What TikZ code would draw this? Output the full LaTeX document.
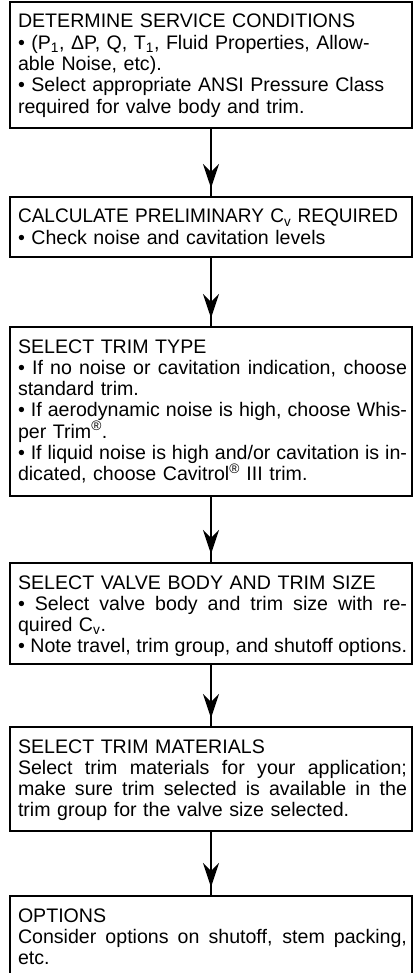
\documentclass[tikz,border=0pt]{standalone}
\usepackage{fontspec}
\setmainfont{Liberation Sans}
\usetikzlibrary{positioning,arrows.meta,decorations.markings}

\newlength{\boxtextwd}
\setlength{\boxtextwd}{389pt}
\newcommand{\fullline}[1]{\makebox[\boxtextwd][s]{\spaceskip=0.278em plus 0.3em minus 0.12em\relax #1}}

\begin{document}
\begin{tikzpicture}[x=1pt, y=1pt,
    stepbox/.style={rectangle, draw, line width=2pt, outer sep=0pt,
        minimum width=402pt, inner xsep=8pt, inner ysep=12pt,
        text width=386pt, align=left, text height=14pt,
        font=\fontsize{19.6}{21.3}\selectfont},
    flow/.style={line width=2pt, postaction={decorate},
        decoration={markings, mark=at position -9pt with {\arrow{Stealth[length=24pt,width=16pt,inset=8pt]}}}}]
    \useasboundingbox (0,0) rectangle (414,-973);

    % Nodes
    \node (service) [stepbox, anchor=north, text depth=88pt] at (211,-2) {DETERMINE SERVICE CONDITIONS\\
        • (P\textsubscript{1}, ΔP, Q, T\textsubscript{1}, Fluid Properties, Allow-\\
        able Noise, etc).\\
        • Select appropriate ANSI Pressure Class\\
        required for valve body and trim.};

    \node (cv) [stepbox, below=69pt of service, text depth=22pt] {\scalebox{0.972}[1]{CALCULATE PRELIMINARY C\textsubscript{v} REQUIRED}\\
        • Check noise and cavitation levels};

    \node (trimtype) [stepbox, below=70pt of cv, text depth=131pt] {SELECT TRIM TYPE\\
        \fullline{• If no noise or cavitation indication, choose}\\
        standard trim.\\
        \fullline{• If aerodynamic noise is high, choose Whis-}\\
        per Trim\textsuperscript{®}.\\
        \fullline{• If liquid noise is high and/or cavitation is in-}\\
        dicated, choose Cavitrol\textsuperscript{®} III trim.};

    \node (bodysize) [stepbox, below=67pt of trimtype, text depth=63pt] {SELECT VALVE BODY AND TRIM SIZE\\
        \fullline{• Select valve body and trim size with re-}\\
        quired C\textsubscript{v}.\\
        \fullline{• Note travel, trim group, and shutoff options.}};

    \node (materials) [stepbox, below=63pt of bodysize, text depth=66pt] {SELECT TRIM MATERIALS\\
        \fullline{Select trim materials for your application;}\\
        \fullline{make sure trim selected is available in the}\\
        trim group for the valve size selected.};

    \node (options) [stepbox, below=65pt of materials, text depth=62pt] {OPTIONS\\
        \fullline{Consider options on shutoff, stem packing,}\\
        etc.};

    % Connections
    \draw [flow] (service) -- (cv);
    \draw [flow] (cv) -- (trimtype);
    \draw [flow] (trimtype) -- (bodysize);
    \draw [flow] (bodysize) -- (materials);
    \draw [flow] (materials) -- (options);
\end{tikzpicture}
\end{document}
